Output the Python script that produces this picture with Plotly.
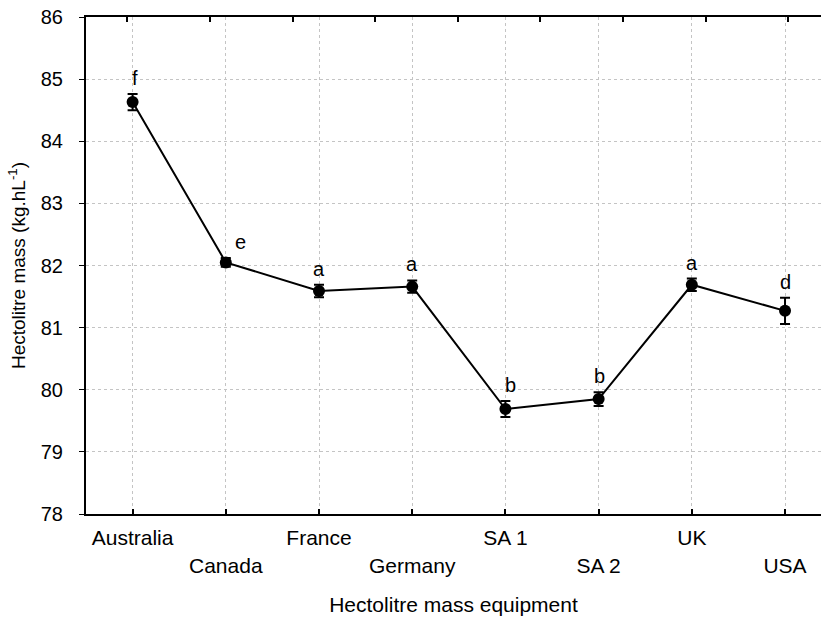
import plotly.graph_objects as go

# Hectolitre mass by equipment: means, standard errors and significance groups
equipment = ["Australia", "Canada", "France", "Germany", "SA 1", "SA 2", "UK", "USA"]
hl_mean = [84.63, 82.05, 81.59, 81.66, 79.69, 79.85, 81.69, 81.27]
hl_se = [0.13, 0.07, 0.10, 0.10, 0.13, 0.11, 0.10, 0.21]
groups = ["f", "e", "a", "a", "b", "b", "a", "d"]
y_ticks = [78, 79, 80, 81, 82, 83, 84, 85, 86]

FONT = "Liberation Sans, Arial, Helvetica, sans-serif"
idx = list(range(len(equipment)))

# alternate labels between two rows so the long names do not collide
tick_text = [name if i % 2 == 0 else "<br>" + name for i, name in enumerate(equipment)]

fig = go.Figure()
fig.add_trace(go.Scatter(
    x=idx, y=hl_mean,
    mode="lines+markers",
    line=dict(color="black", width=2),
    marker=dict(color="black", size=12),
    error_y=dict(type="data", array=hl_se, visible=True,
                 color="black", thickness=2, width=5),
    showlegend=False,
    cliponaxis=False,
))

# group letters just above each error bar
letter_shift = [2, 15, 0, 0, 5, 1, 0, 0]
for i, (m, s, g) in enumerate(zip(hl_mean, hl_se, groups)):
    fig.add_annotation(x=i, y=m + s, text=g, showarrow=False,
                       xref="x", yref="y", yanchor="bottom",
                       yshift=3, xshift=letter_shift[i],
                       font=dict(family=FONT, size=20, color="black"))

fig.update_layout(
    width=821, height=625,
    margin=dict(l=86, r=0, t=17, b=111),
    paper_bgcolor="white", plot_bgcolor="white",
    font=dict(family=FONT, size=20, color="black"),
    xaxis=dict(
        range=[-0.5, 7.386],
        tickmode="array", tickvals=idx, ticktext=tick_text,
        ticks="inside", ticklen=5, tickwidth=1.5, tickcolor="black",
        showline=True, linecolor="black", linewidth=2,
        showgrid=True, gridcolor="#c4c4c4", griddash="dot", gridwidth=1,
        zeroline=False,
        tickfont=dict(size=21),
        ticklabelstandoff=4,
        title=dict(text="Hectolitre mass equipment", font=dict(size=21), standoff=22),
    ),
    xaxis2=dict(
        overlaying="x", side="top",
        range=[-0.5, 8.398],
        tickmode="array", tickvals=list(range(9)),
        showticklabels=False,
        ticks="inside", ticklen=5, tickwidth=1.5, tickcolor="black",
        showline=True, linecolor="black", linewidth=2,
        showgrid=False, zeroline=False,
    ),
    yaxis=dict(
        range=[78, 86],
        tickmode="array", tickvals=y_ticks,
        ticks="outside", ticklen=5, tickwidth=1, tickcolor="black",
        showline=True, linecolor="black", linewidth=2,
        showgrid=True, gridcolor="#c4c4c4", griddash="dot", gridwidth=1,
        zeroline=False,
        tickfont=dict(size=20),
        ticklabelstandoff=12,
        title=dict(text="Hectolitre mass (kg.hL<sup>-1</sup>)", font=dict(size=19), standoff=10),
    ),
)

# invisible trace to activate the top axis frame
fig.add_trace(go.Scatter(x=[0], y=[None], xaxis="x2", yaxis="y",
                         mode="markers", showlegend=False, hoverinfo="skip"))

fig.write_html("out.html")
